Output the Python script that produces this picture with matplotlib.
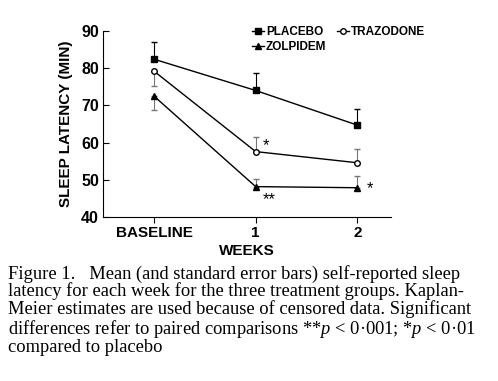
import matplotlib.pyplot as plt
from matplotlib.lines import Line2D
import numpy as np

plt.rcParams['font.family'] = ['Liberation Sans', 'DejaVu Sans']
plt.rcParams['mathtext.fontset'] = 'custom'
plt.rcParams['mathtext.it'] = 'Liberation Serif:italic'
plt.rcParams['mathtext.rm'] = 'Liberation Serif'

weeks = ["BASELINE", "1", "2"]
placebo = [82.4, 74.0, 64.7]
placebo_se = [4.6, 4.6, 4.3]
trazodone = [79.2, 57.6, 54.6]
trazodone_se = [4.0, 4.0, 3.6]
zolpidem = [72.5, 48.2, 47.9]
zolpidem_se = [3.7, 2.0, 3.1]

# which way each bar is drawn (+1 up, -1 down), as in the original
placebo_dir = [1, 1, 1]
trazodone_dir = [-1, 1, 1]
zolpidem_dir = [-1, 1, 1]

caption = ("Figure 1.   Mean (and standard error bars) self-reported sleep\n"
           "latency for each week for the three treatment groups. Kaplan-\n"
           "Meier estimates are used because of censored data. Significant\n"
           "differences refer to paired comparisons **$p$ < 0·001; *$p$ < 0·01\n"
           "compared to placebo")

fig = plt.figure(figsize=(4.98, 3.81), dpi=100)
ax = fig.add_axes([0.207, 0.430, 0.578, 0.489])

x = np.arange(len(weeks))


def one_sided(se, dirs):
    lo = [s if d < 0 else 0 for s, d in zip(se, dirs)]
    hi = [s if d > 0 else 0 for s, d in zip(se, dirs)]
    return [lo, hi]


ax.errorbar(x, placebo, yerr=one_sided(placebo_se, placebo_dir),
            color="black", lw=1.0, marker="s", ms=4.5, mfc="black",
            capsize=2.5, elinewidth=0.8)
ax.errorbar(x, trazodone, yerr=one_sided(trazodone_se, trazodone_dir),
            color="black", lw=1.0, marker="o", ms=4, mfc="white",
            capsize=2.5, elinewidth=0.8, ecolor="#777777")
ax.errorbar(x, zolpidem, yerr=one_sided(zolpidem_se, zolpidem_dir),
            color="black", lw=1.0, marker="^", ms=4.5, mfc="black",
            capsize=2.5, elinewidth=0.8, ecolor="#777777")

# significance marks
ax.text(1.1, trazodone[1] + 1.6, "*", fontsize=12, ha="center", va="center")
ax.text(1.13, zolpidem[1] - 3.6, "**", fontsize=12, ha="center", va="center")
ax.text(2.12, zolpidem[2] - 0.3, "*", fontsize=12, ha="center", va="center")

ax.set_xlim(-0.5, 2.33)
ax.set_ylim(40, 90)
ax.set_yticks(np.arange(40, 91, 10))
ax.set_xticks(x)
ax.set_xticklabels(weeks, fontsize=11, fontweight="bold")
ax.tick_params(axis="y", labelsize=11.5, direction="in", length=4, pad=3)
ax.tick_params(axis="x", direction="out", length=4, pad=2)
for lbl in ax.get_yticklabels():
    lbl.set_fontweight("bold")
ax.spines["top"].set_visible(False)
ax.spines["right"].set_visible(False)

ax.set_ylabel("SLEEP LATENCY (MIN)", fontsize=11, fontweight="bold", labelpad=6)
ax.set_xlabel("WEEKS", fontsize=11, fontweight="bold", labelpad=3)

# legend: row 1 PLACEBO, TRAZODONE; row 2 ZOLPIDEM (column-major fill)
h_pl = Line2D([], [], color="black", lw=1, marker="s", ms=4, mfc="black")
h_tr = Line2D([], [], color="black", lw=1, marker="o", ms=4, mfc="white")
h_zo = Line2D([], [], color="black", lw=1, marker="^", ms=4, mfc="black")
ax.legend([h_pl, h_zo, h_tr], ["PLACEBO", "ZOLPIDEM", "TRAZODONE"],
          loc="upper left", bbox_to_anchor=(0.48, 1.085), ncol=2,
          frameon=False, handlelength=1.0, handletextpad=0.2,
          columnspacing=0.9, labelspacing=0.3,
          prop={"weight": "bold", "size": 8.5})

fig.text(0.016, 0.305, caption, family=["Liberation Serif", "DejaVu Serif"],
         fontsize=13.3, va="top", ha="left", linespacing=0.98)

fig.savefig("out.png", dpi=100)
